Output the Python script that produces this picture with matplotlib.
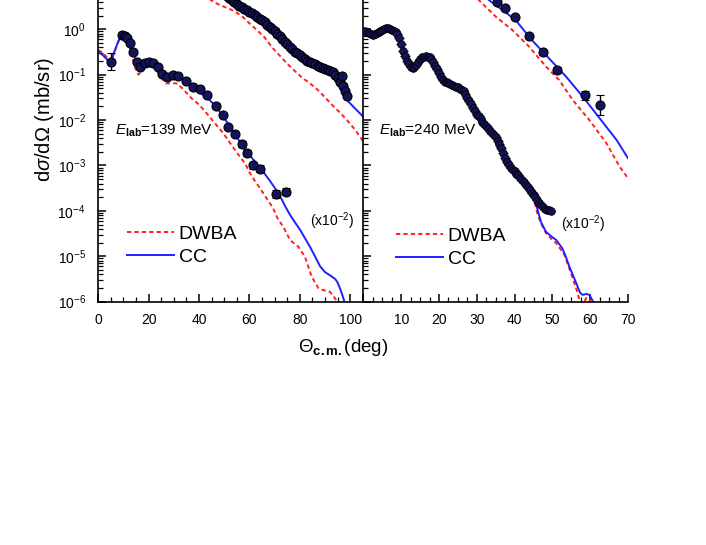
import numpy as np
import matplotlib
matplotlib.use("Agg")
import matplotlib.pyplot as plt
from matplotlib.ticker import (MultipleLocator, LogLocator, FixedLocator, LogFormatterSciNotation,
                               NullFormatter, FuncFormatter)
from matplotlib.lines import Line2D

plt.rcParams['font.family'] = ['Liberation Sans', 'DejaVu Sans']
plt.rcParams['mathtext.fontset'] = 'custom'
plt.rcParams['mathtext.rm'] = 'Liberation Sans'
plt.rcParams['mathtext.it'] = 'Liberation Sans:italic'
plt.rcParams['mathtext.bf'] = 'Liberation Sans:bold'
plt.rcParams['mathtext.sf'] = 'Liberation Sans'

# ---------------- Data (log10 of dσ/dΩ in mb/sr) ----------------
# E_lab = 139 MeV, lower set (x10^-2)
a139_lo = [4.9, 9.5, 10.6, 11.5, 12.6, 13.9, 15.2, 16.5, 18.5, 20.2, 21.8, 23.8, 25.1, 27.4,
           29.8, 31.7, 34.7, 37.7, 40.4, 43.0, 46.7, 49.6, 51.6, 54.2, 56.9, 58.9, 61.5, 64.3,
           70.4, 74.5]
l139_lo = [-0.71, -0.13, -0.15, -0.20, -0.30, -0.49, -0.71, -0.82, -0.75, -0.71, -0.75, -0.82,
           -0.98, -1.06, -1.00, -1.03, -1.13, -1.26, -1.32, -1.45, -1.69, -1.89, -2.15, -2.31,
           -2.53, -2.72, -3.00, -3.07, -3.63, -3.58]
e139_lo = [0.18, 0.04, 0.04, 0.04, 0.04, 0.04, 0.04, 0.04, 0.04, 0.04, 0.04, 0.04, 0.04, 0.04,
           0.04, 0.04, 0.04, 0.04, 0.04, 0.04, 0.05, 0.05, 0.05, 0.05, 0.06, 0.06, 0.07, 0.07,
           0.08, 0.08]

# E_lab = 139 MeV, upper set
a139_up = [50, 51, 52, 53, 54, 55, 56, 57, 58, 59, 60, 61, 62, 63, 64, 65, 66, 67, 68, 69, 70,
           71, 72, 73, 74, 75, 76, 77, 78, 79, 80, 81, 82, 83, 84, 85, 86, 87, 88, 89, 90, 91,
           92, 93, 94, 95, 96, 96.7, 97, 98, 98.7]
l139_up = [0.80, 0.74, 0.69, 0.64, 0.60, 0.56, 0.52, 0.49, 0.45, 0.42, 0.39, 0.35, 0.31, 0.27,
           0.23, 0.20, 0.15, 0.10, 0.06, 0.01, -0.04, -0.10, -0.15, -0.21, -0.27, -0.33, -0.38,
           -0.43, -0.49, -0.53, -0.57, -0.62, -0.66, -0.69, -0.72, -0.75, -0.77, -0.80, -0.83,
           -0.86, -0.88, -0.90, -0.92, -0.95, -1.00, -1.07, -1.16, -1.03, -1.25, -1.36, -1.48]

# E_lab = 240 MeV, upper set
a240_up = [35.4, 37.4, 40.0, 43.8, 47.5, 51.3, 58.7, 62.7]
l240_up = [0.61, 0.48, 0.28, -0.14, -0.51, -0.90, -1.45, -1.67]
e240_up = [0.04, 0.04, 0.04, 0.04, 0.05, 0.06, 0.10, 0.22]

# E_lab = 240 MeV, lower set (x10^-2)
a240_lo = [0.5, 1.0, 1.5, 2.0, 2.5, 3.0, 3.5, 4.0, 4.5, 5.0, 5.5, 6.0, 6.5, 7.0, 7.5, 8.0, 8.5,
           9.0, 9.5, 10.0, 10.5, 11.0, 11.5, 12.0, 12.5, 13.0, 13.5, 14.0, 14.5, 15.0, 15.5,
           16.0, 16.5, 17.0, 17.5, 18.0, 18.5, 19.0, 19.5, 20.0, 20.5, 21.0, 21.5, 22.0, 22.5,
           23.0, 23.5, 24.0, 24.5, 25.0, 25.5, 26.0, 26.5, 27.0, 27.5, 28.0, 28.5, 29.0, 29.5,
           30.0, 30.5, 31.0, 31.5, 32.0, 32.5, 33.0, 33.5, 34.0, 34.5, 35.0, 35.5, 36.0, 36.5,
           37.0, 37.5, 38.0, 38.5, 39.0, 39.5, 40.0, 40.5, 41.0, 41.5, 42.0, 42.5, 43.0, 43.5,
           44.0, 44.5, 45.0, 45.5, 46.0, 46.5, 47.0, 47.5, 48.0, 48.5, 49.0, 49.5]
l240_lo = [-0.03, -0.06, -0.09, -0.11, -0.12, -0.10, -0.08, -0.06, -0.04, -0.02, 0.00, 0.02,
           0.02, 0.01, -0.01, -0.03, -0.06, -0.11, -0.20, -0.33, -0.47, -0.59, -0.69, -0.77,
           -0.83, -0.86, -0.84, -0.78, -0.71, -0.66, -0.62, -0.60, -0.59, -0.60, -0.62, -0.65,
           -0.72, -0.80, -0.88, -0.97, -1.05, -1.11, -1.15, -1.17, -1.19, -1.21, -1.23, -1.24,
           -1.26, -1.28, -1.31, -1.34, -1.37, -1.43, -1.51, -1.58, -1.65, -1.73, -1.81, -1.88,
           -1.92, -1.98, -2.04, -2.09, -2.13, -2.18, -2.23, -2.28, -2.33, -2.37, -2.45, -2.53,
           -2.62, -2.72, -2.84, -2.93, -2.99, -3.05, -3.10, -3.13, -3.18, -3.22, -3.27, -3.32,
           -3.37, -3.42, -3.48, -3.54, -3.60, -3.65, -3.69, -3.75, -3.82, -3.88, -3.92, -3.95,
           -3.97, -3.98, -4.00]

# Calculations, E_lab = 139 MeV
c139_up_x = [44, 47, 50, 55, 60, 65, 70, 75, 80, 85, 90, 93, 96, 99.2, 102, 105.2]
c139_up_cc = [1.25, 1.02, 0.85, 0.57, 0.38, 0.19, -0.05, -0.33, -0.56, -0.73, -0.87, -0.97,
              -1.18, -1.59, -1.75, -1.93]
d139_up_x = [40, 42, 45, 48, 52, 54, 57, 60, 63, 66, 69, 72, 75, 78, 81, 84, 87, 90, 93, 96,
             99, 102, 105.2]
d139_up_dw = [0.90, 0.76, 0.63, 0.54, 0.45, 0.40, 0.29, 0.13, -0.02, -0.18, -0.40, -0.58,
              -0.76, -0.92, -1.07, -1.19, -1.33, -1.50, -1.68, -1.84, -2.02, -2.22, -2.48]
c139_lo_x = [0, 2, 4, 5, 6, 8, 9.5, 10.5, 12, 13.5, 15, 16.5, 18, 20, 22, 24, 26, 28, 30, 32,
             34, 36, 38, 40, 42, 44, 46, 48, 50, 52, 54, 56, 58, 60, 62, 64, 66, 68, 70, 72,
             74, 76, 78, 80, 82, 84, 86, 88, 90, 92, 94, 95, 96, 97, 98.2]
c139_lo_cc = [-0.49, -0.58, -0.70, -0.72, -0.55, -0.25, -0.12, -0.13, -0.28, -0.50, -0.70,
              -0.80, -0.76, -0.71, -0.76, -0.88, -0.99, -1.04, -1.03, -1.06, -1.13, -1.22,
              -1.30, -1.38, -1.46, -1.55, -1.66, -1.80, -1.96, -2.12, -2.30, -2.46, -2.63,
              -2.77, -2.90, -3.04, -3.18, -3.33, -3.49, -3.66, -3.88, -4.08, -4.25, -4.41,
              -4.60, -4.79, -5.00, -5.22, -5.35, -5.42, -5.50, -5.58, -5.72, -5.88, -6.10]
d139_lo_x = [0, 2, 4, 5, 6, 8, 9.5, 10.5, 12, 13.5, 15, 16, 17, 18.5, 20, 22, 24, 26, 27, 29,
             31, 33, 35, 37, 40, 43, 46, 49.6, 52, 54, 56.2, 58.2, 60, 62, 64.2, 66, 69.4, 71,
             73.4, 76.1, 78, 79.4, 82, 84.7, 87.3, 89, 91.9, 94, 95.2]
d139_lo_dw = [-0.46, -0.52, -0.66, -0.72, -0.56, -0.27, -0.13, -0.15, -0.32, -0.62, -0.92,
              -1.00, -0.93, -0.80, -0.75, -0.80, -0.98, -1.14, -1.19, -1.19, -1.19, -1.28,
              -1.40, -1.52, -1.66, -1.85, -2.05, -2.29, -2.48, -2.64, -2.81, -2.95, -3.15,
              -3.33, -3.50, -3.66, -3.94, -4.15, -4.35, -4.64, -4.73, -4.79, -5.01, -5.45,
              -5.70, -5.74, -5.78, -5.93, -6.10]

# Calculations, E_lab = 240 MeV
c240_up_x = [28, 30, 33.2, 36.7, 40.3, 44.6, 49.1, 53.6, 58.0, 62.5, 67.0, 70.0]
c240_up_cc = [1.20, 0.98, 0.645, 0.43, 0.20, -0.24, -0.64, -1.04, -1.48, -1.96, -2.44, -2.84]
d240_up_x = [26, 28, 30.5, 35.0, 39.4, 43.8, 48.3, 51.8, 55.4, 59.8, 64.3, 67.8, 70.0]
d240_up_dw = [1.15, 0.92, 0.645, 0.28, -0.015, -0.38, -0.82, -1.12, -1.56, -2.00, -2.51,
              -3.03, -3.28]
c240_lo_x = [0, 1, 2, 3, 4, 5, 6, 7, 8, 9, 10, 11, 12, 13, 14, 15, 16, 17, 18, 19, 20, 21, 22,
             24, 26, 27, 28, 30, 32, 34, 35, 36, 37, 38, 39, 40, 42, 44, 45, 46, 47, 48.3, 50,
             51, 52.6, 53.5, 54.5, 56.3, 57.3, 58, 59, 59.8, 61.1]
c240_lo_cc = [0.0, -0.05, -0.10, -0.11, -0.07, -0.03, 0.0, 0.0, -0.04, -0.12, -0.33, -0.58,
              -0.76, -0.84, -0.78, -0.67, -0.61, -0.60, -0.64, -0.78, -0.96, -1.10, -1.17,
              -1.24, -1.34, -1.43, -1.58, -1.86, -2.09, -2.28, -2.37, -2.52, -2.71, -2.92,
              -3.05, -3.13, -3.32, -3.54, -3.68, -3.95, -4.25, -4.46, -4.58, -4.64, -4.82,
              -5.00, -5.23, -5.59, -5.80, -5.85, -5.83, -5.85, -6.05]
d240_lo_x = [0, 1, 2, 3, 4, 5, 6, 7, 8, 9, 10, 11, 12, 13, 14, 15, 16, 17, 18, 19, 20, 21, 22,
             24, 26, 27, 28, 30, 32, 34, 35, 36, 37, 38, 39, 40, 42, 44, 45, 46, 47, 48.3, 50,
             51, 53.2, 54.9, 56.7, 57.3, 58.2, 58.9, 59.8, 60.3]
d240_lo_dw = [0.02, -0.04, -0.10, -0.12, -0.08, -0.04, -0.01, -0.01, -0.05, -0.14, -0.36,
              -0.62, -0.80, -0.88, -0.82, -0.70, -0.63, -0.62, -0.67, -0.81, -0.99, -1.13,
              -1.20, -1.27, -1.38, -1.47, -1.62, -1.90, -2.13, -2.32, -2.42, -2.57, -2.76,
              -2.96, -3.08, -3.16, -3.36, -3.58, -3.72, -4.05, -4.28, -4.49, -4.64, -4.71,
              -4.97, -5.37, -5.81, -6.02, -6.05, -5.92, -5.95, -6.05]

y_major_ticks = [1e-6, 1e-5, 1e-4, 1e-3, 1e-2, 1e-1, 1e0]

# ---------------- Figure ----------------
W, H = 706, 545
fig = plt.figure(figsize=(W / 100, H / 100), dpi=100)

y_bot_px = 301.7
dec_px = 45.4
ymin, ymax = 1e-6, 1e2
top_px = y_bot_px - dec_px * 8
bottom = 1 - y_bot_px / H
height = (y_bot_px - top_px) / H

xl0, xl1, xr1 = 98.3, 363.4, 628.0
axL = fig.add_axes([xl0 / W, bottom, (xl1 - xl0) / W, height])
axR = fig.add_axes([xl1 / W, bottom, (xr1 - xl1) / W, height])

blue = '#1f1fff'
red = '#ff2020'
mfc = '#14145c'

def p(v):
    return np.power(10.0, np.asarray(v, dtype=float))

def err(l, e):
    l = np.asarray(l, dtype=float)
    e = np.asarray(e, dtype=float)
    return [p(l) - p(l - e), p(l + e) - p(l)]

lw = 1.4
dash = (0, (2.2, 1.6))

# Left panel
axL.plot(d139_up_x, p(d139_up_dw), color=red, lw=lw, ls=dash, zorder=2)
axL.plot(c139_up_x, p(c139_up_cc), color=blue, lw=lw, zorder=2)
axL.plot(d139_lo_x, p(d139_lo_dw), color=red, lw=lw, ls=dash, zorder=2)
axL.plot(c139_lo_x, p(c139_lo_cc), color=blue, lw=lw, zorder=2)
axL.errorbar(a139_lo, p(l139_lo), yerr=err(l139_lo, e139_lo), fmt='o', ms=6.5, mfc=mfc,
             mec='black', mew=0.8, ecolor='black', elinewidth=1.0, capsize=3, zorder=3)
axL.errorbar(a139_up, p(l139_up), yerr=err(l139_up, [0.04] * len(l139_up)), fmt='o', ms=6.5,
             mfc=mfc, mec='black', mew=0.8, ecolor='black', elinewidth=1.0, capsize=3, zorder=3)

# Right panel
axR.plot(d240_up_x, p(d240_up_dw), color=red, lw=lw, ls=dash, zorder=2)
axR.plot(c240_up_x, p(c240_up_cc), color=blue, lw=lw, zorder=2)
axR.plot(d240_lo_x, p(d240_lo_dw), color=red, lw=lw, ls=dash, zorder=2)
axR.plot(c240_lo_x, p(c240_lo_cc), color=blue, lw=lw, zorder=2)
axR.errorbar(a240_lo, p(l240_lo), xerr=1.3, yerr=err(l240_lo, [0.06] * len(l240_lo)), fmt='o',
             ms=5.5, mfc=mfc, mec='black', mew=0.6, ecolor='black', elinewidth=0.9, capsize=0,
             zorder=3)
axR.errorbar(a240_up, p(l240_up), yerr=err(l240_up, e240_up), fmt='o', ms=6.5, mfc=mfc,
             mec='black', mew=0.8, ecolor='black', elinewidth=1.0, capsize=3, zorder=3)

for ax in (axL, axR):
    ax.set_yscale('log')
    ax.set_ylim(ymin, ymax)
    ax.spines['top'].set_visible(False)
    ax.spines['right'].set_visible(False)
    for s in ('left', 'bottom'):
        ax.spines[s].set_linewidth(1.2)
    ax.yaxis.set_major_locator(FixedLocator(y_major_ticks))
    ax.yaxis.set_minor_locator(LogLocator(base=10, subs=np.arange(2, 10), numticks=20))
    ax.yaxis.set_minor_formatter(NullFormatter())
    ax.tick_params(which='major', direction='in', length=6, width=1.1, labelsize=10,
                   top=False, right=False)
    ax.tick_params(which='minor', direction='in', length=3.5, width=0.9, top=False, right=False)
    ax.tick_params(axis='x', pad=8)
    ax.tick_params(axis='y', pad=9)

axL.set_xlim(0, 105.2)
axL.xaxis.set_major_locator(MultipleLocator(20))
axL.xaxis.set_minor_locator(MultipleLocator(5))
axL.yaxis.set_major_formatter(LogFormatterSciNotation())

axR.set_xlim(0, 70)
axR.xaxis.set_major_locator(MultipleLocator(10))
axR.xaxis.set_minor_locator(MultipleLocator(2.5))
axR.xaxis.set_major_formatter(FuncFormatter(lambda v, pos: '' if abs(v) < 1e-9 else f'{v:g}'))
axR.tick_params(axis='y', labelleft=False)

# Legends
def legend(ax, x_px, y_px):
    h = [Line2D([], [], color=red, lw=lw, ls=dash), Line2D([], [], color=blue, lw=lw)]
    ax.legend(h, ['DWBA', 'CC'], loc='center left', bbox_to_anchor=(x_px / W, 1 - y_px / H),
              bbox_transform=fig.transFigure, frameon=False, fontsize=14, handlelength=2.4,
              handletextpad=0.25, labelspacing=0.25, borderpad=0, borderaxespad=0)

legend(axL, 127, 245.5)
legend(axR, 396, 247.5)

# Annotations
fig.text(115 / W, 1 - 131 / H, r'$\mathit{E}_{\mathbf{lab}}$=139 MeV', fontsize=11,
         ha='left', va='center')
fig.text(379 / W, 1 - 131 / H, r'$\mathit{E}_{\mathbf{lab}}$=240 MeV', fontsize=11,
         ha='left', va='center')
fig.text(332 / W, 1 - 221 / H, r'(x10$^{-2}$)', fontsize=10, ha='center', va='center')
fig.text(583 / W, 1 - 224 / H, r'(x10$^{-2}$)', fontsize=10, ha='center', va='center')

fig.text(45 / W, 1 - 119 / H, r'd$\sigma$/d$\Omega$ (mb/sr)', fontsize=14.5, rotation=90,
         ha='center', va='center')
fig.text(343 / W, 1 - 347 / H, r'$\Theta_{\mathbf{c.m.}}$(deg)', fontsize=13.5, ha='center',
         va='center')

fig.savefig('out.png', dpi=100)
